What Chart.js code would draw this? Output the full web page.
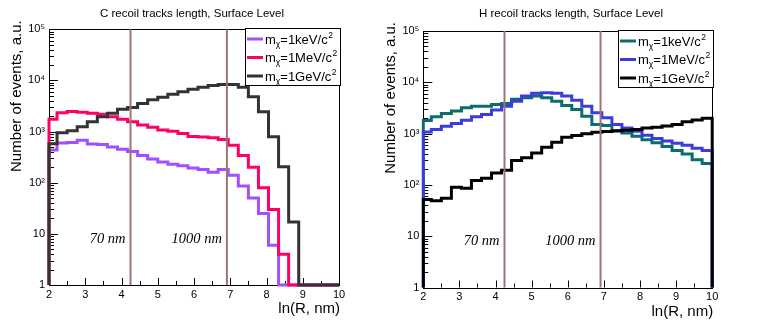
<!DOCTYPE html>
<html>
<head>
<meta charset="utf-8">
<title>Recoil tracks length, Surface Level</title>
<script src="https://cdn.jsdelivr.net/npm/chart.js@4.4.1/dist/chart.umd.min.js"></script>
<style>
  html, body { margin: 0; padding: 0; background: #fff; }
  #wrap { position: relative; width: 758px; height: 331px; overflow: hidden; }
  canvas { position: absolute; top: 0; }
</style>
</head>
<body>
<div id="wrap">
  <canvas id="chart-C" width="379" height="331" style="left:0"></canvas>
  <canvas id="chart-H" width="379" height="331" style="left:379px"></canvas>
</div>
<script>
// ln(R, nm) bin edges (first bin is cut by the axis start at 2)
const binEdges = [2, 2.222, 2.5, 2.778, 3.056, 3.333, 3.611, 3.889, 4.167, 4.444,
  4.722, 5, 5.278, 5.556, 5.833, 6.111, 6.389, 6.667, 6.944, 7.222,
  7.5, 7.778, 8.056, 8.333, 8.611, 8.889, 9.167, 9.444, 9.722, 10];

// C recoils, events per bin
const cKeV = [434, 600, 610, 680, 570, 560, 500, 450, 410, 340, 290, 255, 230, 215, 195,
  181, 160, 181, 140, 86, 50, 25, 6, 0, 0, 0, 0, 0, 0];
const cMeV = [1740, 2340, 2460, 2400, 2280, 2180, 1950, 1740, 1550, 1340, 1210, 1070, 1020, 920, 800,
  780, 760, 700, 540, 340, 200, 80, 30, 4, 0, 0, 0, 0, 0];
const cGeV = [580, 950, 1040, 1240, 1550, 1950, 2280, 2720, 2960, 3550, 4170, 4690, 5350, 6000, 6700,
  7380, 7920, 8300, 8300, 7380, 4790, 2450, 790, 205, 17, 0, 0, 0, 0];

// H recoils, events per bin
const hKeV = [1800, 2130, 2460, 2750, 3180, 3430, 3430, 3710, 3880, 4660, 5000, 5400, 5000, 4280, 3540,
  2960, 2180, 1500, 1440, 1150, 1030, 890, 760, 660, 560, 470, 400, 310, 260];
const hMeV = [1070, 1200, 1390, 1580, 1830, 2130, 2350, 2870, 3430, 4280, 5390, 6090, 6290, 6090, 5390,
  4480, 3430, 2540, 2040, 1500, 1290, 1110, 930, 800, 720, 650, 590, 520, 470];
const hGeV = [52, 49, 55, 90, 86, 122, 135, 170, 192, 300, 340, 420, 540, 680, 850,
  920, 990, 1060, 1100, 1130, 1160, 1200, 1280, 1330, 1400, 1500, 1700, 1850, 2000];

const massLabels = ['1keV', '1MeV', '1GeV'];
const xTicks = [2, 3, 4, 5, 6, 7, 8, 9, 10];
const yDecades = [1, 10, 100, 1000, 10000, 100000];
const yTickLabels = ['1', '10', '10²', '10³', '10⁴', '10⁵'];
const markerPositions = [Math.log(70), Math.log(1000)];
const markerLabels = ['70 nm', '1000 nm'];
const markerTextLevel = 8;

const SANS = '"Liberation Sans", Arial, Helvetica, sans-serif';
Chart.defaults.font.family = SANS;
Chart.defaults.color = '#000';

// histogram outline: two points per bin, zero bins sit on the axis floor
function histPoints(values) {
  const floor = yDecades[0];
  const last = binEdges[binEdges.length - 1];
  const pts = [{ x: binEdges[0], y: floor }];
  values.forEach((v, i) => {
    const y = Math.max(v, floor);
    pts.push({ x: binEdges[i], y: y }, { x: binEdges[i + 1], y: y });
  });
  pts.push({ x: last, y: floor });
  return pts;
}

function drawMassLabel(ctx, x, y, mass) {
  const big = '13px ' + SANS;
  const small = '8.5px ' + SANS;
  ctx.font = big;
  ctx.fillText('m', x, y);
  x += ctx.measureText('m').width;
  ctx.font = small;
  ctx.fillText('χ', x, y + 3);
  x += ctx.measureText('χ').width;
  ctx.font = big;
  const mid = '=' + mass + '/c';
  ctx.fillText(mid, x, y);
  x += ctx.measureText(mid).width;
  ctx.font = small;
  ctx.fillText('2', x + 0.5, y - 6);
}

// ROOT-like frame, inner ticks, marker lines, legend and titles
const rootStyle = {
  id: 'rootStyle',
  beforeDatasetsDraw(chart) {
    const { ctx, chartArea: a } = chart;
    const xs = chart.scales.x;
    const ys = chart.scales.y;
    ctx.save();
    ctx.strokeStyle = '#000';
    ctx.lineWidth = 1;
    ctx.beginPath();
    xTicks.forEach((v, i) => {
      const px = Math.round(xs.getPixelForValue(v)) + 0.5;
      ctx.moveTo(px, a.bottom);
      ctx.lineTo(px, a.bottom - 7);
      if (i < xTicks.length - 1) {
        const pm = Math.round(xs.getPixelForValue(v + 0.5)) + 0.5;
        ctx.moveTo(pm, a.bottom);
        ctx.lineTo(pm, a.bottom - 4);
      }
    });
    yDecades.forEach((d, i) => {
      const py = Math.round(ys.getPixelForValue(d)) + 0.5;
      ctx.moveTo(a.left, py);
      ctx.lineTo(a.left + 9, py);
      if (i < yDecades.length - 1) {
        for (let m = 2; m <= 9; m++) {
          const pm = Math.round(ys.getPixelForValue(d * m)) + 0.5;
          ctx.moveTo(a.left, pm);
          ctx.lineTo(a.left + 5, pm);
        }
      }
    });
    ctx.stroke();
    ctx.strokeRect(Math.round(a.left) + 0.5, Math.round(a.top) + 0.5,
      Math.round(a.right - a.left), Math.round(a.bottom - a.top));
    ctx.restore();
  },
  afterDatasetsDraw(chart, args, opts) {
    const { ctx, chartArea: a } = chart;
    const xs = chart.scales.x;
    const ys = chart.scales.y;
    ctx.save();

    // 70 nm and 1000 nm lines
    ctx.strokeStyle = '#a07272';
    ctx.lineWidth = 2;
    ctx.font = 'italic 14.5px "Liberation Serif", "Times New Roman", serif';
    ctx.textAlign = 'right';
    ctx.textBaseline = 'middle';
    ctx.fillStyle = '#000';
    markerPositions.forEach((v, i) => {
      const px = xs.getPixelForValue(v);
      ctx.beginPath();
      ctx.moveTo(px, a.top);
      ctx.lineTo(px, a.bottom);
      ctx.stroke();
      ctx.fillText(markerLabels[i], px - 5, ys.getPixelForValue(markerTextLevel));
    });

    // legend box
    const w = 95, h = 57;
    const lx = Math.round(a.right) + 1 - w;
    const ly = Math.round(a.top) - 1;
    ctx.fillStyle = '#fff';
    ctx.fillRect(lx, ly, w, h);
    ctx.strokeStyle = '#000';
    ctx.lineWidth = 1;
    ctx.strokeRect(lx + 0.5, ly + 0.5, w, h);
    ctx.textAlign = 'left';
    ctx.textBaseline = 'alphabetic';
    chart.data.datasets.forEach((ds, i) => {
      const ry = ly + 11 + i * 18.5;
      ctx.strokeStyle = ds.borderColor;
      ctx.lineWidth = 3;
      ctx.beginPath();
      ctx.moveTo(lx + 2, ry);
      ctx.lineTo(lx + 18, ry);
      ctx.stroke();
      ctx.fillStyle = '#000';
      drawMassLabel(ctx, lx + 20, ry + 4.5, massLabels[i]);
    });

    // title and axis titles
    ctx.fillStyle = '#000';
    ctx.textAlign = 'center';
    ctx.textBaseline = 'middle';
    ctx.font = '11.5px ' + SANS;
    ctx.fillText(opts.title, chart.width / 2 + 2.5, 14);
    ctx.font = '15px ' + SANS;
    ctx.textAlign = 'right';
    ctx.fillText('ln(R, nm)', a.right + 1, a.bottom + 24);
    ctx.translate(a.left - 32, a.top - 9);
    ctx.rotate(-Math.PI / 2);
    ctx.fillText('Number of events, a.u.', 0, 0);
    ctx.restore();
  },
};

function makeChart(id, title, series, colors, box) {
  const ctx = document.getElementById(id).getContext('2d');
  return new Chart(ctx, {
    type: 'line',
    data: {
      datasets: series.map((values, i) => ({
        label: 'm_χ=' + massLabels[i] + '/c²',
        data: histPoints(values),
        borderColor: colors[i],
        borderWidth: 3,
        borderJoinStyle: 'miter',
        borderCapStyle: 'butt',
        pointRadius: 0,
        tension: 0,
        fill: false,
        clip: 2,
        order: series.length - 1 - i, // heaviest mass drawn on top
      })),
    },
    options: {
      responsive: false,
      animation: false,
      events: [],
      layout: {
        padding: { left: box.padLeft, right: 379 - box.right, top: box.top, bottom: 0 },
      },
      plugins: {
        legend: { display: false },
        tooltip: { enabled: false },
        title: { display: false },
        rootStyle: { title: title },
      },
      scales: {
        x: {
          type: 'linear',
          min: 2,
          max: 10,
          grid: { display: false, drawTicks: false },
          border: { display: false },
          afterBuildTicks: (s) => { s.ticks = xTicks.map((v) => ({ value: v })); },
          afterFit: (s) => { s.height = 331 - box.bottom; },
          ticks: { color: '#000', font: { size: 11 }, padding: 3, maxRotation: 0, autoSkip: false },
        },
        y: {
          type: 'logarithmic',
          min: 1,
          max: 100000,
          grid: { display: false, drawTicks: false },
          border: { display: false },
          afterBuildTicks: (s) => { s.ticks = yDecades.map((v) => ({ value: v })); },
          afterFit: (s) => { s.width = box.left - box.padLeft; },
          ticks: {
            color: '#000',
            font: { size: 11 },
            padding: 4,
            autoSkip: false,
            callback: (value) => yTickLabels[yDecades.indexOf(value)],
          },
        },
      },
    },
    plugins: [rootStyle],
  });
}

makeChart('chart-C', 'C recoil tracks length, Surface Level', [cKeV, cMeV, cGeV],
  ['#a050ff', '#ff0066', '#333333'],
  { padLeft: 4, left: 49, right: 339, top: 29.3, bottom: 285 });

makeChart('chart-H', 'H recoil tracks length, Surface Level', [hKeV, hMeV, hGeV],
  ['#0b6e6b', '#3c3cdc', '#000000'],
  { padLeft: 6, left: 44.3, right: 333.2, top: 31, bottom: 287.5 });
</script>
</body>
</html>
